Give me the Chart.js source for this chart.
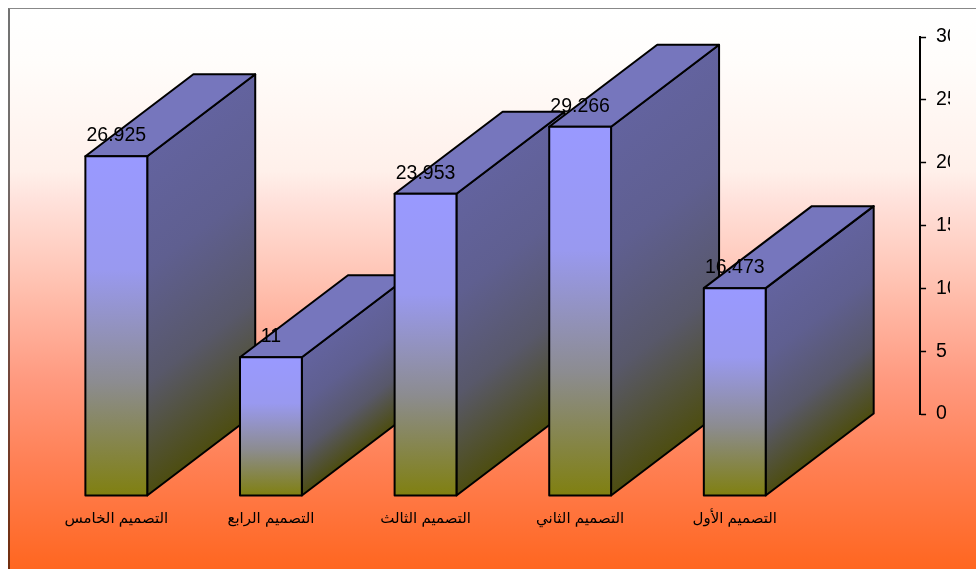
<!DOCTYPE html>
<html>
<head>
<meta charset="utf-8">
<style>
  html, body { margin: 0; padding: 0; background: #fff; overflow: hidden; }
  #frame {
    position: absolute; left: 8px; top: 8px; width: 968px; height: 561px;
    box-sizing: border-box;
    border-left: 2px solid rgba(0, 0, 0, 0.55); border-top: 1px solid #888;
    background: linear-gradient(to bottom, #ffffff 0%, #fffdfb 9%, #fff0ea 29%, #ffe2dc 34%, #ffc4b4 48%, #ff9a80 66%, #ff8055 81%, #ff6620 100%);
  }
  canvas { position: absolute; left: 0; top: 0; }
</style>
</head>
<body>
<div id="frame"></div>
<canvas id="chart" width="976" height="569"></canvas>
<script src="https://cdn.jsdelivr.net/npm/chart.js@4"></script>
<script>
const categories = ['التصميم الخامس', 'التصميم الرابع', 'التصميم الثالث', 'التصميم الثاني', 'التصميم الأول'];
const values = [26.925, 11, 23.953, 29.266, 16.473];
const yTicks = [0, 5, 10, 15, 20, 25, 30];

// depth of the fake 3D box: the axis sits on the back plane, the fronts are shifted by this
const DEPTH_X = 108;
const DEPTH_Y = 82;
const FRONT_SCALE = 1.004;

function faceGradient(ctx, top, bottom, stops) {
    const g = ctx.createLinearGradient(0, top, 0, bottom);
    stops.forEach((c, i) => g.addColorStop(i / (stops.length - 1), c));
    return g;
}

const box3d = {
    id: 'box3d',
    // bars are painted left to right so each front covers the side of the previous one
    beforeDatasetDraw(chart) {
        const ctx = chart.ctx;
        const bars = chart.getDatasetMeta(0).data;
        ctx.save();
        ctx.lineWidth = 2;
        ctx.lineJoin = 'round';
        ctx.strokeStyle = '#000';
        bars.forEach(bar => {
            const w = bar.width;
            const left = bar.x - w / 2 - DEPTH_X;
            const right = left + w;
            const bottom = bar.base + DEPTH_Y;
            const top = bottom - (bar.base - bar.y) * FRONT_SCALE;

            // side face, sheared so the gradient runs along the depth
            ctx.save();
            ctx.transform(1, -DEPTH_Y / DEPTH_X, 0, 1, right, 0);
            ctx.fillStyle = faceGradient(ctx, top, bottom, ['#63639f', '#5f5f90', '#58586a', '#4d4d10']);
            ctx.fillRect(0, top, DEPTH_X, bottom - top);
            ctx.restore();
            ctx.beginPath();
            ctx.moveTo(right, top);
            ctx.lineTo(right + DEPTH_X, top - DEPTH_Y);
            ctx.lineTo(right + DEPTH_X, bottom - DEPTH_Y);
            ctx.lineTo(right, bottom);
            ctx.closePath();
            ctx.stroke();

            // top face
            ctx.beginPath();
            ctx.moveTo(left, top);
            ctx.lineTo(left + DEPTH_X, top - DEPTH_Y);
            ctx.lineTo(right + DEPTH_X, top - DEPTH_Y);
            ctx.lineTo(right, top);
            ctx.closePath();
            ctx.fillStyle = '#7676bd';
            ctx.fill();
            ctx.stroke();

            // front face
            ctx.fillStyle = faceGradient(ctx, top, bottom, ['#9999ff', '#9999f0', '#8c8c90', '#808010']);
            ctx.fillRect(left, top, w, bottom - top);
            ctx.strokeRect(left, top, w, bottom - top);
        });
        ctx.restore();
        return false;
    },
    afterDatasetsDraw(chart) {
        const ctx = chart.ctx;
        const bars = chart.getDatasetMeta(0).data;
        ctx.save();
        ctx.font = '19.5px "Liberation Sans", Arial, sans-serif';
        ctx.fillStyle = '#000';
        ctx.textAlign = 'center';
        ctx.textBaseline = 'alphabetic';
        bars.forEach((bar, i) => {
            const top = bar.base + DEPTH_Y - (bar.base - bar.y) * FRONT_SCALE;
            ctx.fillText(String(values[i]), bar.x - DEPTH_X, top - 15);
        });
        ctx.restore();
    }
};

new Chart(document.getElementById('chart'), {
    type: 'bar',
    data: {
        labels: categories,
        datasets: [{
            data: values,
            barPercentage: 0.4,
            categoryPercentage: 1
        }]
    },
    plugins: [box3d],
    options: {
        responsive: false,
        animation: false,
        layout: { padding: { left: 147, top: 37, right: 0, bottom: 0 } },
        plugins: { legend: { display: false }, tooltip: { enabled: false } },
        scales: {
            x: {
                grid: { display: false },
                border: { display: false },
                afterFit: s => { s.height = 155; },
                ticks: {
                    color: '#000',
                    padding: 88,
                    labelOffset: -DEPTH_X,
                    maxRotation: 0,
                    minRotation: 0,
                    autoSkip: false,
                    font: { family: '"Liberation Sans", "DejaVu Sans", sans-serif', size: 15 }
                }
            },
            y: {
                position: 'right',
                min: 0,
                max: 30,
                afterFit: s => { s.width = 30; },
                afterBuildTicks: s => { s.ticks = yTicks.map(value => ({ value })); },
                grid: { drawOnChartArea: false, color: '#000', tickLength: 6, tickWidth: 1.5 },
                border: { display: true, color: '#000', width: 2 },
                ticks: {
                    color: '#000',
                    padding: 10,
                    font: { family: '"Liberation Sans", Arial, sans-serif', size: 19.5 }
                }
            }
        }
    }
});
</script>
</body>
</html>
